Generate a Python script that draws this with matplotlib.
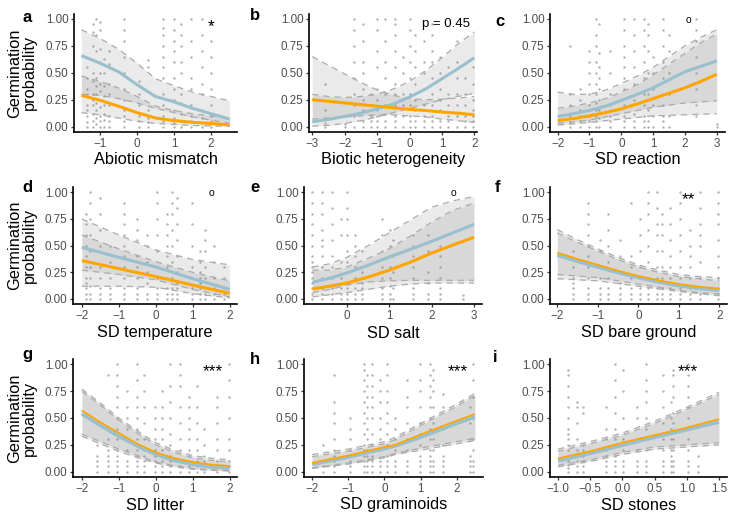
import matplotlib
matplotlib.use('Agg')
import matplotlib.pyplot as plt

plt.rcParams['font.family'] = ['Liberation Sans', 'DejaVu Sans']

W, H = 729, 519
BLUE = '#9AC0CD'
ORANGE = '#FFA500'
PTS = '#B0B0B0'
TICKC = '#4D4D4D'

# ---- panel a : Abiotic mismatch
a_x = [-1.5, -1, -0.5, 0, 0.5, 1, 1.5, 2, 2.5]
a_blue = [0.66, 0.59, 0.51, 0.39, 0.28, 0.23, 0.17, 0.12, 0.07]
a_orange = [0.29, 0.245, 0.19, 0.13, 0.08, 0.056, 0.04, 0.03, 0.016]
a_blue_lo = [0.30, 0.29, 0.26, 0.22, 0.17, 0.13, 0.09, 0.06, 0.03]
a_blue_hi = [0.90, 0.82, 0.72, 0.59, 0.445, 0.38, 0.32, 0.28, 0.24]
a_orange_lo = [0.13, 0.11, 0.08, 0.05, 0.03, 0.02, 0.01, 0.007, 0.004]
a_orange_hi = [0.47, 0.42, 0.36, 0.28, 0.19, 0.15, 0.12, 0.10, 0.08]
a_px = [-1.35, -1.2, -1.1, -1.0, -0.9, -0.75, -0.35, 0.05, 0.3, 0.7, 1.0, 1.2, 1.45, 1.75, 2.0]
a_py = [[0.0, 0.04, 0.1, 0.15, 0.2, 0.3, 0.35, 0.45, 0.55],
        [0.0, 0.05, 0.12, 0.2, 0.25, 0.3, 0.42, 0.5, 0.62, 0.75, 0.88, 0.95],
        [0.02, 0.08, 0.15, 0.22, 0.3, 0.38, 0.45, 0.7, 0.85, 1.0],
        [0.0, 0.05, 0.1, 0.18, 0.25, 0.33, 0.4, 0.5, 0.6, 0.72, 0.9, 0.97],
        [0.0, 0.06, 0.12, 0.2, 0.28, 0.38, 0.5, 0.63],
        [0.0, 0.05, 0.1, 0.2, 0.3, 0.4, 0.58, 0.7],
        [0.0, 0.05, 0.1, 0.15, 0.25, 0.35, 0.5, 0.65, 0.8, 0.9, 1.0],
        [0.0, 0.05, 0.1, 0.2, 0.3, 0.42],
        [0.0, 0.04, 0.08, 0.15, 0.55, 0.62],
        [0.0, 0.05, 0.1, 0.2, 0.3, 0.45, 0.55, 0.65, 0.75, 0.85, 0.92, 1.0],
        [0.0, 0.03, 0.08, 0.15, 0.25, 0.35, 0.45, 0.6, 0.7, 0.8, 0.9, 1.0],
        [0.0, 0.05, 0.12, 0.22, 0.3, 0.5, 0.6, 0.75, 0.85, 0.95],
        [0.0, 0.05, 0.1, 0.2, 0.35, 0.45, 0.65, 0.8, 1.0],
        [0.0, 0.08, 0.15, 0.3, 0.4, 0.55, 0.7, 0.85, 1.0],
        [0.0, 0.05, 0.1, 0.2, 0.35, 0.5, 0.65, 0.8, 0.95]]

# ---- panel b : Biotic heterogeneity
b_x = [-3, -2.5, -2, -1.5, -1, -0.5, 0, 0.5, 1, 1.5, 2]
b_blue = [0.045, 0.066, 0.095, 0.125, 0.165, 0.21, 0.275, 0.35, 0.445, 0.54, 0.64]
b_orange = [0.25, 0.235, 0.22, 0.205, 0.19, 0.175, 0.16, 0.15, 0.135, 0.125, 0.11]
b_blue_lo = [0.005, 0.012, 0.03, 0.055, 0.09, 0.13, 0.17, 0.21, 0.25, 0.28, 0.31]
b_blue_hi = [0.30, 0.28, 0.27, 0.28, 0.30, 0.35, 0.42, 0.52, 0.64, 0.77, 0.88]
b_orange_lo = [0.07, 0.08, 0.09, 0.10, 0.11, 0.11, 0.10, 0.09, 0.07, 0.055, 0.04]
b_orange_hi = [0.65, 0.57, 0.49, 0.41, 0.34, 0.29, 0.26, 0.25, 0.255, 0.265, 0.28]
b_px = [-2.6, -2.0, -1.7, -1.45, -1.2, -1.0, -0.75, -0.45, -0.2, 0.0, 0.17, 0.45, 0.68, 0.94, 1.2, 1.45, 1.7, 1.95]
b_py = [[0.0, 0.03, 0.08, 0.15, 0.4],
        [0.0, 0.02],
        [0.0, 0.1, 0.2, 0.3, 0.45, 0.6, 0.75, 0.9, 1.0],
        [0.0, 0.05, 0.15, 0.25, 0.35, 0.5, 0.6, 0.8, 0.95],
        [0.0, 0.05, 0.1, 0.2, 0.3],
        [0.0, 0.05, 0.1, 0.15, 0.25, 0.35, 0.55, 0.7, 0.9, 1.0],
        [0.0, 0.05, 0.12, 0.2, 0.3, 0.45, 0.6, 0.8, 1.0],
        [0.0, 0.05, 0.1, 0.2, 0.3, 0.4, 0.55, 0.7, 0.85, 0.95, 1.0],
        [0.0, 0.1, 0.2, 0.3, 0.5, 0.65],
        [0.0, 0.05, 0.1, 0.2, 0.3, 0.45, 0.6, 0.75, 0.9, 1.0],
        [0.0, 0.05, 0.15, 0.25, 0.4, 0.55, 0.7, 0.85],
        [0.0, 0.05, 0.1, 0.2, 0.35, 0.5, 0.6, 0.8],
        [0.0, 0.05, 0.1, 0.2, 0.3, 0.45, 0.6, 0.7, 0.85, 0.95],
        [0.0, 0.05, 0.15, 0.25, 0.35, 0.5, 0.65],
        [0.0, 0.05, 0.1, 0.2, 0.3, 0.55],
        [0.0, 0.1, 0.2, 0.3, 0.45, 0.6, 0.8],
        [0.0, 0.05, 0.1, 0.2, 0.3, 0.45],
        [0.0, 0.05, 0.1, 0.15, 0.25, 0.4, 0.55]]

# ---- panel c : SD reaction
c_x = [-2, -1.5, -1, -0.5, 0, 0.5, 1, 1.5, 2, 2.5, 3]
c_blue = [0.093, 0.12, 0.15, 0.19, 0.243, 0.30, 0.36, 0.435, 0.51, 0.56, 0.61]
c_orange = [0.056, 0.075, 0.10, 0.13, 0.165, 0.21, 0.26, 0.31, 0.36, 0.42, 0.486]
c_blue_lo = [0.03, 0.045, 0.06, 0.09, 0.12, 0.15, 0.18, 0.20, 0.22, 0.23, 0.24]
c_blue_hi = [0.32, 0.30, 0.30, 0.34, 0.40, 0.47, 0.55, 0.65, 0.75, 0.83, 0.90]
c_orange_lo = [0.015, 0.025, 0.04, 0.055, 0.07, 0.085, 0.10, 0.105, 0.11, 0.115, 0.12]
c_orange_hi = [0.17, 0.19, 0.22, 0.26, 0.32, 0.39, 0.48, 0.58, 0.68, 0.78, 0.86]
c_px = [-1.6, -1.3, -1.0, -0.8, -0.7, -0.35, 0.07, 0.4, 0.7, 0.85, 1.0, 1.3, 1.5, 2.35, 3.0]
c_py = [[0.0, 0.04, 0.1, 0.2, 0.3, 0.75],
        [0.0, 0.05, 0.1, 0.15, 0.25, 0.35],
        [0.0, 0.05, 0.1, 0.2, 0.3, 0.4, 0.5, 0.6, 0.7],
        [0.0, 0.05, 0.1, 0.15, 0.22, 0.3, 0.4, 0.5, 0.6, 0.75, 0.85, 1.0],
        [0.0, 0.08, 0.15, 0.25, 0.35, 0.45, 0.55, 0.68, 0.95],
        [0.0, 0.05, 0.1, 0.2, 0.3, 0.5, 0.7],
        [0.0, 0.05, 0.1, 0.2, 0.35, 0.45, 0.55, 0.65, 0.75, 0.9, 1.0],
        [0.0, 0.05, 0.12, 0.25, 0.4, 0.55, 0.7, 0.85, 1.0],
        [0.0, 0.05, 0.1, 0.2, 0.3, 0.45, 0.6, 0.75, 0.9, 1.0],
        [0.0, 0.05, 0.15, 0.3, 0.5, 0.7, 0.85, 0.95],
        [0.0, 0.1, 0.2, 0.35, 0.5, 0.65],
        [0.0, 0.05, 0.1, 0.2, 0.3, 0.45, 0.6, 0.75, 0.9, 1.0],
        [0.0, 0.1, 0.3, 0.5, 0.7, 0.85],
        [0.1, 0.2, 0.35, 0.5, 0.65, 0.8, 0.9, 1.0],
        [0.0, 0.02]]

# ---- panel d : SD temperature
d_x = [-2, -1, 0, 1, 2]
d_blue = [0.484, 0.39, 0.30, 0.19, 0.09]
d_orange = [0.36, 0.285, 0.21, 0.13, 0.053]
d_blue_lo = [0.27, 0.23, 0.18, 0.09, 0.02]
d_blue_hi = [0.75, 0.60, 0.46, 0.37, 0.32]
d_orange_lo = [0.12, 0.12, 0.11, 0.05, 0.01]
d_orange_hi = [0.60, 0.47, 0.35, 0.25, 0.17]
d_px = [-1.88, -1.77, -1.5, -1.23, -0.87, -0.5, -0.24, 0.03, 0.3, 0.44, 0.57, 0.97, 1.2, 1.34, 1.57, 1.84]
d_py = [[0.0, 0.05, 0.1, 0.15, 0.2, 0.3, 0.4, 0.5, 0.6, 0.7, 0.8],
        [0.0, 0.05, 0.12, 0.2, 0.3, 0.45, 0.6, 0.75, 0.9, 1.0],
        [0.0, 0.05, 0.1, 0.2, 0.3, 0.5, 0.65, 0.8, 0.95],
        [0.0, 0.05, 0.1, 0.2, 0.35, 0.5],
        [0.0, 0.05, 0.1, 0.2, 0.3, 0.4, 0.5, 0.6, 0.7, 0.8, 0.9],
        [0.0, 0.05, 0.1, 0.2, 0.3, 0.4, 0.55, 0.65, 0.75],
        [0.0, 0.05, 0.15, 0.25, 0.35, 0.5, 0.6],
        [0.0, 0.05, 0.1, 0.2, 0.3, 0.45, 0.6, 0.75, 0.9, 1.0],
        [0.0, 0.05, 0.1, 0.2, 0.3, 0.4, 0.5, 0.6, 0.7, 0.8],
        [0.0, 0.05, 0.1, 0.2, 0.35, 0.5, 0.65, 0.8, 0.9, 1.0],
        [0.0, 0.05, 0.1, 0.15, 0.25, 0.4, 0.55, 0.7, 0.85, 0.95],
        [0.0, 0.05, 0.1, 0.2, 0.3, 0.5, 0.7, 0.9],
        [0.0, 0.05, 0.1, 0.15, 0.2, 0.25, 0.35, 0.45],
        [0.0, 0.05, 0.1, 0.2, 0.3, 0.45, 0.55, 0.65],
        [0.0, 0.05, 0.1, 0.2, 0.35, 0.5],
        [0.0, 0.05, 0.1, 0.2, 0.3]]

# ---- panel e : SD salt
e_x = [-0.81, -0.4, 0, 0.5, 1, 1.5, 2, 2.5, 3]
e_blue = [0.156, 0.195, 0.244, 0.315, 0.394, 0.465, 0.54, 0.62, 0.70]
e_orange = [0.094, 0.12, 0.15, 0.205, 0.27, 0.345, 0.43, 0.505, 0.578]
e_blue_lo = [0.06, 0.09, 0.13, 0.16, 0.17, 0.175, 0.175, 0.175, 0.175]
e_blue_hi = [0.30, 0.33, 0.39, 0.50, 0.62, 0.74, 0.86, 0.92, 0.96]
e_orange_lo = [0.02, 0.04, 0.06, 0.09, 0.12, 0.14, 0.15, 0.15, 0.15]
e_orange_hi = [0.27, 0.27, 0.30, 0.38, 0.47, 0.59, 0.72, 0.83, 0.90]
e_px = [-0.81, -0.59, -0.35, -0.13, 0.0, 0.2, 0.35, 0.82, 1.02, 1.1, 1.57, 1.92, 2.2, 2.74]
e_py = [[0.0, 0.05, 0.1, 0.15, 0.2, 0.25, 0.3, 0.35, 0.4, 0.5, 0.6, 0.7, 0.8, 0.9, 1.0],
        [0.0, 0.05, 0.1, 0.2, 0.3, 0.4, 0.5, 0.55, 0.65, 0.8, 0.9, 1.0],
        [0.0, 0.05, 0.1, 0.2, 0.3, 0.4, 0.55, 0.7, 0.85, 1.0],
        [0.0, 0.05, 0.1, 0.2, 0.35, 0.6, 0.75],
        [0.0, 0.05, 0.1, 0.15, 0.25, 0.35, 0.45, 0.6, 0.75, 0.85, 1.0],
        [0.0, 0.05, 0.1, 0.2, 0.3, 0.4, 0.5, 0.6],
        [0.0, 0.05, 0.1, 0.15, 0.25, 0.45],
        [0.0, 0.05, 0.1, 0.2, 0.3, 0.45, 0.6, 0.75],
        [0.0, 0.05, 0.12, 0.2, 0.3, 0.4, 0.5, 0.65],
        [0.0, 0.1, 0.25, 0.4, 0.55],
        [0.0, 0.05, 0.1, 0.2, 0.3, 0.4, 0.5, 0.6],
        [0.0, 0.05, 0.15, 0.25, 0.45, 0.6],
        [0.0, 0.05, 0.1, 0.2, 0.3, 0.4, 0.5],
        [0.0, 0.04]]

# ---- panel f : SD bare ground
f_x = [-2, -1.5, -1, -0.5, 0, 0.5, 1, 1.5, 2]
f_blue = [0.41, 0.353, 0.30, 0.247, 0.20, 0.16, 0.125, 0.10, 0.08]
f_orange = [0.434, 0.375, 0.32, 0.265, 0.216, 0.175, 0.14, 0.115, 0.097]
f_blue_lo = [0.19, 0.18, 0.17, 0.145, 0.12, 0.095, 0.07, 0.05, 0.03]
f_blue_hi = [0.62, 0.53, 0.45, 0.37, 0.30, 0.25, 0.21, 0.19, 0.17]
f_orange_lo = [0.23, 0.215, 0.20, 0.17, 0.14, 0.11, 0.08, 0.06, 0.045]
f_orange_hi = [0.65, 0.555, 0.47, 0.39, 0.32, 0.27, 0.23, 0.21, 0.20]
f_px = [-1.6, -1.23, -0.95, -0.74, -0.45, -0.17, 0.04, 0.25, 0.45, 0.58, 0.79, 1.03, 1.28, 1.52, 1.98]
f_py = [[0.0, 0.05, 0.1, 0.15, 0.2, 0.3, 0.45],
        [0.0, 0.05, 0.1, 0.2, 0.3, 0.4, 0.5, 0.6, 0.7, 0.8, 0.9],
        [0.0, 0.05, 0.1, 0.2, 0.3, 0.45, 0.55],
        [0.0, 0.05, 0.1, 0.2, 0.35, 0.5, 0.65, 0.8],
        [0.0, 0.05, 0.1, 0.15, 0.25, 0.4, 0.55],
        [0.0, 0.05, 0.1, 0.2, 0.3, 0.4, 0.9],
        [0.0, 0.05, 0.1, 0.2, 0.3, 0.45, 0.6, 0.75],
        [0.0, 0.05, 0.1, 0.2, 0.35, 0.5, 0.65, 0.8, 0.9, 1.0],
        [0.0, 0.05, 0.1, 0.2, 0.3, 0.45, 0.6, 0.7, 0.85, 1.0],
        [0.0, 0.05, 0.1, 0.2, 0.3, 0.45, 0.6, 0.7, 0.8],
        [0.0, 0.05, 0.1, 0.2, 0.3, 0.4, 0.55, 0.7, 0.85],
        [0.0, 0.05, 0.1, 0.2, 0.3, 0.45, 0.6, 0.75, 0.9, 1.0],
        [0.0, 0.05, 0.1, 0.2, 0.3, 0.4, 0.5, 0.65],
        [0.0, 0.05, 0.1, 0.2, 0.35, 0.5, 0.6, 0.7, 0.85, 1.0],
        [0.0, 0.05, 0.1, 0.2, 0.3, 0.4, 0.55, 0.7, 0.8, 0.9, 1.0]]

# ---- panel g : SD litter
g_x = [-2, -1.5, -1, -0.5, 0, 0.5, 1, 1.5, 2]
g_blue = [0.54, 0.43, 0.33, 0.24, 0.16, 0.105, 0.068, 0.045, 0.03]
g_orange = [0.571, 0.46, 0.36, 0.26, 0.18, 0.125, 0.09, 0.066, 0.052]
g_blue_lo = [0.33, 0.26, 0.19, 0.13, 0.08, 0.045, 0.022, 0.012, 0.006]
g_blue_hi = [0.75, 0.62, 0.48, 0.36, 0.25, 0.18, 0.13, 0.105, 0.09]
g_orange_lo = [0.35, 0.28, 0.21, 0.15, 0.09, 0.055, 0.03, 0.018, 0.01]
g_orange_hi = [0.77, 0.64, 0.50, 0.38, 0.27, 0.20, 0.15, 0.125, 0.11]
g_px = [-1.6, -1.3, -1.05, -0.78, -0.51, -0.33, -0.02, 0.17, 0.39, 0.66, 0.89, 1.12, 1.3, 1.66, 1.97]
g_py = [[0.0, 0.05, 0.1, 0.15, 0.25],
        [0.0, 0.05, 0.1, 0.15, 0.2, 0.3, 0.4, 0.9],
        [0.0, 0.05, 0.1, 0.15, 0.2, 0.3, 0.4, 0.5, 0.6, 0.7, 0.8, 0.9, 1.0],
        [0.0, 0.05, 0.1, 0.2, 0.3, 0.4, 0.5, 0.6, 0.75],
        [0.0, 0.05, 0.1, 0.15, 0.2, 0.3, 0.4, 0.5, 0.6, 0.7, 0.85, 1.0],
        [0.0, 0.05, 0.1, 0.15, 0.2, 0.3, 0.45, 0.6, 0.75, 0.9],
        [0.0, 0.05, 0.1, 0.15, 0.2, 0.3, 0.4, 0.5, 0.6],
        [0.0, 0.05, 0.1, 0.2, 0.3, 0.4, 0.5, 0.6, 0.75],
        [0.0, 0.05, 0.1, 0.15, 0.25, 0.35, 0.5, 0.65, 0.8, 1.0],
        [0.0, 0.05, 0.1, 0.2, 0.3, 0.45, 0.6, 0.8, 0.9, 1.0],
        [0.0, 0.05, 0.1, 0.15, 0.2, 0.3, 0.4, 0.5, 0.6, 0.7],
        [0.0, 0.05, 0.1, 0.2, 0.3, 0.45, 0.6, 0.8],
        [0.0, 0.05, 0.1, 0.15, 0.25, 0.4],
        [0.0, 0.05, 0.1, 0.2, 0.3, 0.45, 0.6, 0.7],
        [0.0, 0.05, 0.1, 0.2, 0.3, 0.5, 0.7, 0.85, 1.0]]

# ---- panel h : SD graminoids
h_x = [-2, -1, 0, 0.3, 1, 2, 2.5]
h_blue = [0.068, 0.135, 0.216, 0.24, 0.32, 0.45, 0.51]
h_orange = [0.083, 0.15, 0.23, 0.25, 0.345, 0.475, 0.537]
h_blue_lo = [0.03, 0.07, 0.13, 0.16, 0.20, 0.26, 0.29]
h_blue_hi = [0.14, 0.19, 0.26, 0.30, 0.43, 0.61, 0.71]
h_orange_lo = [0.035, 0.08, 0.14, 0.17, 0.22, 0.28, 0.31]
h_orange_hi = [0.16, 0.21, 0.28, 0.32, 0.45, 0.63, 0.73]
h_px = [-1.7, -1.4, -0.94, -0.57, -0.48, -0.35, -0.12, 0.06, 0.29, 0.62, 0.98, 1.26, 1.35, 1.63, 2.37, 2.46]
h_py = [[0.0, 0.05, 0.1, 0.25],
        [0.0, 0.05, 0.1, 0.15, 0.2, 0.3, 0.45, 0.55, 0.65, 0.9],
        [0.0, 0.05, 0.1, 0.15, 0.2, 0.3, 0.4, 0.5],
        [0.0, 0.05, 0.1, 0.15, 0.2, 0.25, 0.35, 0.45, 0.55, 0.65, 0.75, 0.85, 0.95, 1.0],
        [0.0, 0.05, 0.1, 0.15, 0.2, 0.3, 0.4, 0.5, 0.6, 0.7, 0.8, 0.9],
        [0.0, 0.05, 0.1, 0.15, 0.25, 0.35, 0.5, 0.6, 0.7, 0.8, 0.9, 1.0],
        [0.0, 0.05, 0.1, 0.2, 0.3, 0.4, 0.5, 0.65, 0.75, 0.85],
        [0.0, 0.05, 0.1, 0.15, 0.25, 0.35, 0.45, 0.55, 0.65, 0.75, 0.9, 1.0],
        [0.0, 0.05, 0.1, 0.2, 0.3, 0.4, 0.5],
        [0.0, 0.05, 0.1, 0.2, 0.3, 0.45, 0.6, 0.7, 0.85],
        [0.0, 0.05, 0.1, 0.15, 0.25, 0.35, 0.45, 0.6, 0.75, 0.85, 1.0],
        [0.0, 0.05, 0.1, 0.15, 0.2, 0.3, 0.4, 0.5, 0.6, 0.7, 0.8, 0.9, 1.0],
        [0.0, 0.05, 0.1, 0.2, 0.3, 0.45, 0.6, 0.75, 0.85, 0.95],
        [0.0, 0.05, 0.1, 0.15, 0.25, 0.4, 0.6, 0.72],
        [0.0, 0.05, 0.1, 0.15, 0.3, 0.45, 0.6],
        [0.0, 0.05, 0.1, 0.2, 0.3, 0.5, 0.7, 0.85, 1.0]]

# ---- panel i : SD stones
i_x = [-1, -0.5, 0, 0.5, 1, 1.5]
i_blue = [0.10, 0.17, 0.247, 0.32, 0.39, 0.463]
i_orange = [0.123, 0.19, 0.27, 0.34, 0.41, 0.49]
i_blue_lo = [0.045, 0.095, 0.16, 0.21, 0.23, 0.25]
i_blue_hi = [0.19, 0.26, 0.34, 0.45, 0.58, 0.72]
i_orange_lo = [0.06, 0.11, 0.18, 0.23, 0.25, 0.27]
i_orange_hi = [0.21, 0.28, 0.36, 0.47, 0.60, 0.74]
i_px = [-0.85, -0.71, -0.62, -0.25, -0.12, 0.01, 0.22, 0.37, 0.63, 0.76, 0.79, 1.02, 1.18]
i_py = [[0.0, 0.03, 0.06, 0.1, 0.15, 0.2, 0.25, 0.3, 0.35, 0.4, 0.5, 0.6, 0.7, 0.8, 0.9, 0.95],
        [0.0, 0.05, 0.1, 0.15, 0.2, 0.3, 0.45, 0.6, 0.65],
        [0.0, 0.05, 0.1, 0.15, 0.2, 0.25, 0.55, 0.6],
        [0.0, 0.05, 0.1, 0.15, 0.2, 0.3, 0.4, 0.6],
        [0.0, 0.05, 0.1, 0.15, 0.25, 0.3, 0.4, 0.55, 0.7, 0.85, 1.0],
        [0.0, 0.05, 0.1, 0.2, 0.3, 0.5, 0.75, 0.95],
        [0.0, 0.05, 0.1, 0.2, 0.3, 0.5, 0.6],
        [0.0, 0.05, 0.1, 0.2, 0.3, 0.4, 0.5, 0.65, 0.75, 0.85, 1.0],
        [0.0, 0.05, 0.1, 0.2, 0.3, 0.45, 0.6, 0.75, 0.9],
        [0.0, 0.05, 0.1, 0.15, 0.2, 0.3, 0.4, 0.5, 0.65],
        [0.0, 0.05, 0.1, 0.2, 0.3, 0.45, 0.55, 0.7, 0.8, 0.9, 0.95],
        [0.0, 0.05, 0.1, 0.2, 0.3, 0.4, 0.5, 0.6, 0.7, 0.8, 0.9, 1.0],
        [0.0, 0.05, 0.15]]

xlabels = ['Abiotic mismatch', 'Biotic heterogeneity', 'SD reaction',
           'SD temperature', 'SD salt', 'SD bare ground',
           'SD litter', 'SD graminoids', 'SD stones']
letters = ['a', 'b', 'c', 'd', 'e', 'f', 'g', 'h', 'i']
sig_text = ['*', 'p = 0.45', 'o', 'o', 'o', '**', '***', '***', '***']
sig_x = [2.0, 1.13, 2.1, 1.5, 2.51, 1.23, 1.55, 2.02, 1.02]
xticks = [[-1, 0, 1, 2], [-3, -2, -1, 0, 1, 2], [-2, -1, 0, 1, 2, 3],
          [-2, -1, 0, 1, 2], [0, 1, 2, 3], [-2, -1, 0, 1, 2],
          [-2, -1, 0, 1, 2], [-2, -1, 0, 1, 2], [-1.0, -0.5, 0.0, 0.5, 1.0, 1.5]]
xlims = [(-1.7, 2.7), (-3.10, 2.08), (-2.24, 3.26),
         (-2.24, 2.2), (-1.01, 3.19), (-2.18, 2.19),
         (-2.24, 2.2), (-2.225, 2.725), (-1.125, 1.625)]

panels = [
    (a_x, a_blue, a_orange, a_blue_lo, a_blue_hi, a_orange_lo, a_orange_hi, a_px, a_py),
    (b_x, b_blue, b_orange, b_blue_lo, b_blue_hi, b_orange_lo, b_orange_hi, b_px, b_py),
    (c_x, c_blue, c_orange, c_blue_lo, c_blue_hi, c_orange_lo, c_orange_hi, c_px, c_py),
    (d_x, d_blue, d_orange, d_blue_lo, d_blue_hi, d_orange_lo, d_orange_hi, d_px, d_py),
    (e_x, e_blue, e_orange, e_blue_lo, e_blue_hi, e_orange_lo, e_orange_hi, e_px, e_py),
    (f_x, f_blue, f_orange, f_blue_lo, f_blue_hi, f_orange_lo, f_orange_hi, f_px, f_py),
    (g_x, g_blue, g_orange, g_blue_lo, g_blue_hi, g_orange_lo, g_orange_hi, g_px, g_py),
    (h_x, h_blue, h_orange, h_blue_lo, h_blue_hi, h_orange_lo, h_orange_hi, h_px, h_py),
    (i_x, i_blue, i_orange, i_blue_lo, i_blue_hi, i_orange_lo, i_orange_hi, i_px, i_py),
]

# axes boxes in pixels (left, right, top, bottom)
col_lr = [[(74, 237), (309, 477), (550, 725)],
          [(73, 237), (304, 482), (550, 727)],
          [(73, 237), (304, 483), (550, 727)]]
row_tb = [(13.6, 132), (187, 304.3), (359, 477)]
xlab_y = [160, 333, 505]
letter_pos = [(27, 18), (255, 16), (500, 21), (27, 187), (255, 187), (497, 187),
              (27, 355), (255, 360), (495, 358)]

fig = plt.figure(figsize=(W / 100, H / 100), dpi=100)

for k, p in enumerate(panels):
    x, yb, yo, blo, bhi, olo, ohi, px, py = p
    r, c = divmod(k, 3)
    l, rr = col_lr[r][c]
    t, b = row_tb[r]
    ax = fig.add_axes([l / W, 1 - b / H, (rr - l) / W, (b - t) / H])

    xs, ys = [], []
    for xc, col in zip(px, py):
        for v in col:
            xs.append(xc)
            ys.append(v)
    ax.scatter(xs, ys, s=3.0, color=PTS, linewidths=0, zorder=1)

    for lo, hi in ((blo, bhi), (olo, ohi)):
        ax.fill_between(x, lo, hi, color='#7F7F7F', alpha=0.16, lw=0, zorder=2)
        ax.plot(x, lo, color='#ABABAB', lw=0.9, ls=(0, (5, 4)), zorder=3)
        ax.plot(x, hi, color='#ABABAB', lw=0.9, ls=(0, (5, 4)), zorder=3)

    if k < 5:
        ax.plot(x, yb, color=BLUE, lw=2.2, zorder=4, solid_capstyle='butt')
        ax.plot(x, yo, color=ORANGE, lw=2.2, zorder=5, solid_capstyle='butt')
    else:
        ax.plot(x, yb, color=BLUE, lw=2.6, zorder=4, solid_capstyle='butt')
        ax.plot(x, yo, color=ORANGE, lw=1.3, zorder=5, solid_capstyle='butt')

    ax.set_xlim(*xlims[k])
    ax.set_ylim(-0.05, 1.05)
    ax.set_yticks([0, 0.25, 0.5, 0.75, 1.0])
    ax.set_yticklabels(['0.00', '0.25', '0.50', '0.75', '1.00'])
    ax.set_xticks(xticks[k])
    if k == 8:
        ax.set_xticklabels(['\u22121.0', '\u22120.5', '0.0', '0.5', '1.0', '1.5'])
    for sp in ('top', 'right'):
        ax.spines[sp].set_visible(False)
    for sp in ('left', 'bottom'):
        ax.spines[sp].set_linewidth(1.2)
    ax.tick_params(length=2.5, width=0.9, labelsize=8.4, labelcolor=TICKC,
                   pad=1.5, color='#333333')

    if sig_text[k] == 'o':
        ax.text(sig_x[k], 0.99, 'o', fontsize=7.5, ha='center', va='center')
    elif sig_text[k].startswith('p'):
        ax.text(sig_x[k], 0.955, sig_text[k], fontsize=9.5, ha='center', va='center')
    else:
        ax.text(sig_x[k], 0.93, sig_text[k], fontsize=12.5, ha='center', va='center')

    fig.text((l + rr) / 2 / W, 1 - xlab_y[r] / H, xlabels[k], fontsize=11.8,
             ha='center', va='center')
    lx, ly = letter_pos[k]
    fig.text(lx / W, 1 - ly / H, letters[k], fontsize=12, fontweight='bold',
             ha='center', va='center')

    if c == 0:
        fig.text(22 / W, 1 - (t + b) / 2 / H, 'Germination\nprobability',
                 fontsize=11.8, rotation=90, ha='center', va='center',
                 linespacing=0.95)

fig.savefig('out.png', dpi=100)
